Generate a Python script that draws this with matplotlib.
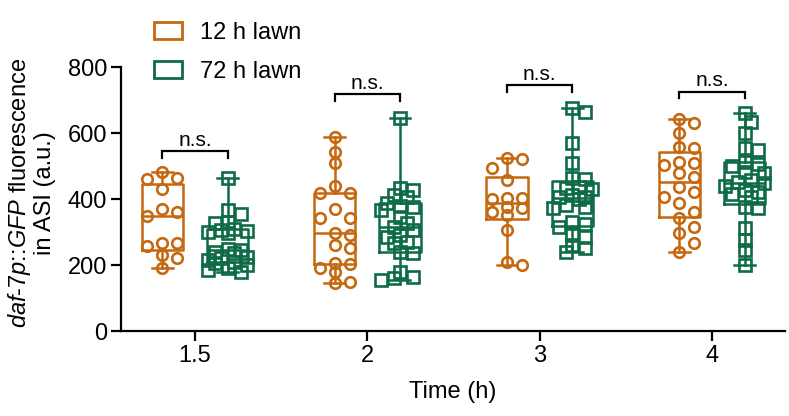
import numpy as np
import matplotlib
matplotlib.use("Agg")
import matplotlib.pyplot as plt
from matplotlib.patches import Patch

plt.rcParams['font.family'] = ['Liberation Sans', 'DejaVu Sans']
plt.rcParams['mathtext.fontset'] = 'custom'
plt.rcParams['mathtext.it'] = 'Liberation Sans:italic'
plt.rcParams['mathtext.rm'] = 'Liberation Sans'

# ---------------- data ----------------
time_labels = ["1.5", "2", "3", "4"]
series_names = ["12 h lawn", "72 h lawn"]

lawn12 = [
    [481, 463, 460, 429, 369, 361, 348, 268, 266, 258, 230, 220, 190],
    [589, 543, 508, 439, 419, 419, 369, 341, 341, 297, 291, 261, 251, 205, 203, 190, 180, 150, 145],
    [525, 520, 493, 458, 402, 402, 400, 377, 372, 361, 352, 306, 210, 200],
    [641, 629, 601, 558, 554, 513, 508, 503, 478, 468, 437, 422, 407, 387, 362, 341, 316, 296, 266, 240],
]
lawn72 = [
    [463, 367, 355, 331, 328, 310, 306, 303, 300, 298, 250, 245, 240, 235, 225, 220, 215, 210, 205, 200, 190, 185, 180],
    [645, 432, 427, 412, 405, 387, 380, 377, 367, 346, 327, 316, 306, 291, 285, 271, 266, 240, 235, 180, 165, 160, 155],
    [675, 665, 569, 508, 463, 460, 436, 433, 430, 412, 407, 405, 400, 382, 377, 372, 331, 325, 316, 291, 285, 261, 251, 240],
    [660, 634, 599, 554, 548, 513, 505, 500, 483, 478, 458, 452, 448, 440, 427, 422, 415, 407, 377, 372, 311, 276, 245, 200],
]
bracket_heights = [544, 718, 745, 725]
sig_labels = ["n.s.", "n.s.", "n.s.", "n.s."]

colors = ["#C5680F", "#0D6B47"]

# ---------------- figure ----------------
W, H = 789, 416
fig = plt.figure(figsize=(W / 100, H / 100), dpi=100)
ax_left, ax_right, ax_bot, ax_top = 121, 785, 331, 67
ax = fig.add_axes([ax_left / W, (H - ax_bot) / H, (ax_right - ax_left) / W, (ax_bot - ax_top) / H])

xlim = (-0.43, 3.424)
ylim = (0, 800)
ax.set_xlim(*xlim)
ax.set_ylim(*ylim)

px_per_x = (ax_right - ax_left) / (xlim[1] - xlim[0])
px_per_y = (ax_bot - ax_top) / (ylim[1] - ylim[0])

offset = 0.19
box_w = 0.24


def weibull_stats(vals):
    v = np.asarray(vals, float)
    q1, med, q3 = np.percentile(v, [25, 50, 75], method="weibull")
    return dict(med=med, q1=q1, q3=q3, whislo=v.min(), whishi=v.max(), fliers=[])


def swarm(vals, step_px, diam_px, max_k):
    vals = np.asarray(vals, float)
    order = np.argsort(-vals)
    placed = []
    offs = np.zeros(len(vals))
    cands = [0.0]
    for k in range(1, max_k + 1):
        cands += [k * step_px, -k * step_px]
    for i in order:
        y = vals[i] * px_per_y
        best, best_d = 0.0, -1
        for c in cands:
            d = min([np.hypot(px - c, py - y) for (px, py) in placed] + [1e9])
            if d >= diam_px:
                best = c
                break
            if d > best_d:
                best, best_d = c, d
        offs[i] = best
        placed.append((best, y))
    return offs / px_per_x


groups = [lawn12, lawn72]
markers = ["o", "s"]
swarm_params = [(15, 11, 1), (6.5, 9, 3)]
for s, (data, col, mk) in enumerate(zip(groups, colors, markers)):
    sign = -1 if s == 0 else 1
    for g, vals in enumerate(data):
        pos = g + sign * offset
        st = weibull_stats(vals)
        ax.bxp([st], positions=[pos], widths=box_w, showfliers=False,
               capwidths=box_w * 0.5,
               boxprops=dict(color=col, lw=1.8),
               medianprops=dict(color=col, lw=1.8),
               whiskerprops=dict(color=col, lw=1.8),
               capprops=dict(color=col, lw=1.8))
        offs = swarm(vals, *swarm_params[s])
        ax.plot(pos + offs, vals, linestyle="none", marker=mk, ms=7.6 if mk == "o" else 8.0,
                mfc="none", mec=col, mew=1.9, zorder=3, clip_on=False)

# brackets
leg_len = 20
for g, (hy, lab) in enumerate(zip(bracket_heights, sig_labels)):
    x0, x1 = g - offset, g + offset
    ax.plot([x0, x0, x1, x1], [hy - leg_len, hy, hy, hy - leg_len], color="black", lw=1.6,
            clip_on=False, solid_joinstyle="miter")
    ax.text(g, hy + 16, lab, ha="center", va="baseline", fontsize=15)

# axes style
for sp in ["top", "right"]:
    ax.spines[sp].set_visible(False)
for sp in ["left", "bottom"]:
    ax.spines[sp].set_linewidth(1.6)
ax.set_xticks(range(len(time_labels)))
ax.set_xticklabels(time_labels)
ax.set_yticks([0, 200, 400, 600, 800])
ax.tick_params(axis="both", labelsize=17, width=1.6, length=7, pad=3)
ax.set_xlabel("Time (h)", fontsize=17, labelpad=10)

fig.text(31 / W, 1 - 193 / H,
         r"$\it{daf}$-$\it{7p}$::$\it{GFP}$ fluorescence" + "\n" + "in ASI (a.u.)",
         rotation=90, ha="center", va="center", fontsize=17, multialignment="center",
         linespacing=1.05)

handles = [Patch(facecolor="white", edgecolor=c, lw=2) for c in colors]
fig.legend(handles, series_names, loc="upper left", bbox_to_anchor=(154 / W, 1 - 22 / H),
           frameon=False, fontsize=17, handlelength=1.2, handleheight=0.7,
           handletextpad=0.75, labelspacing=0.72, borderpad=0, borderaxespad=0)

fig.savefig("out.png", dpi=100)
